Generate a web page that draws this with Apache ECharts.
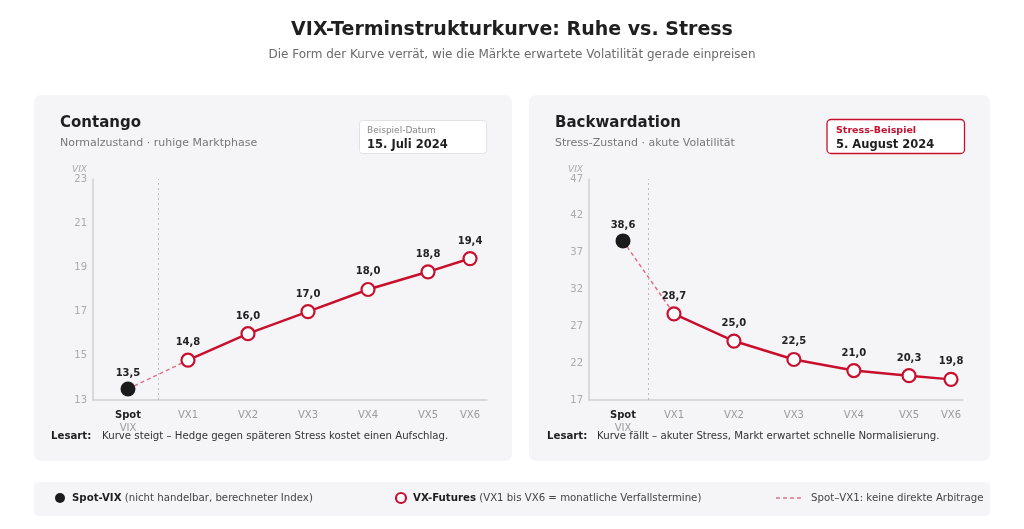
<!DOCTYPE html>
<html>
<head>
  <meta charset="utf-8">
  <title>VIX-Terminstruktur</title>
  <script src="https://cdn.jsdelivr.net/npm/echarts@6/dist/echarts.min.js"></script>
  <style>
    html, body { margin: 0; padding: 0; background: #fff; }
    #main { width: 1024px; height: 529px; }
  </style>
</head>
<body>
  <div id="main"></div>
  <script type="text/javascript">
    // Daten
    var labels = ['Spot', 'VX1', 'VX2', 'VX3', 'VX4', 'VX5', 'VX6'];

    // Contango (15. Juli 2024)
    var contangoPos = [0, 1, 2, 3, 4, 5, 5.7];
    var contangoSpot = 13.5;
    var contangoFutures = [14.8, 16.0, 17.0, 18.0, 18.8, 19.4];
    var contangoTicks = [13, 15, 17, 19, 21, 23];

    // Backwardation (5. August 2024)
    var backPos = [0.15, 1, 2, 3, 4, 4.92, 5.62];
    var backSpot = 38.6;
    var backFutures = [28.7, 25.0, 22.5, 21.0, 20.3, 19.8];
    var backTicks = [17, 22, 27, 32, 37, 42, 47];

    var FONT = 'DejaVu Sans';
    var RED = '#c8102e';
    var DASH = '#e07088';
    var SMALL = 10.2;

    var myChart = echarts.init(document.getElementById('main'));

    function comma(v) { return v.toFixed(1).replace('.', ','); }

    function xLabel(pos) {
      return function (value) {
        for (var i = 0; i < pos.length; i++) {
          if (Math.abs(pos[i] - value) < 0.001) {
            return i === 0 ? '{s|Spot}\n{v|VIX}' : labels[i];
          }
        }
        return '';
      };
    }

    function xAxisFor(idx, pos, min, max) {
      return {
        type: 'value', gridIndex: idx, min: min, max: max,
        axisLine: { show: true, onZero: false, lineStyle: { color: '#cfcfd4', width: 1.5 } },
        axisTick: { show: false },
        splitLine: { show: false },
        axisLabel: {
          customValues: pos,
          formatter: xLabel(pos),
          color: '#9a9a9a', fontFamily: FONT, fontSize: 10, margin: 9, lineHeight: 13,
          rich: {
            s: { fontWeight: 'bold', color: '#222', fontFamily: FONT, fontSize: 10, lineHeight: 13 },
            v: { color: '#9a9a9a', fontFamily: FONT, fontSize: 10, lineHeight: 13 }
          }
        }
      };
    }

    function yAxisFor(idx, ticks) {
      return {
        type: 'value', gridIndex: idx,
        min: ticks[0], max: ticks[ticks.length - 1],
        name: 'VIX', nameLocation: 'end', nameGap: 5,
        nameTextStyle: { fontStyle: 'italic', color: '#aaa', fontSize: 9, fontFamily: FONT, align: 'right', padding: [0, 6, 0, 0] },
        axisLine: { show: true, onZero: false, lineStyle: { color: '#cfcfd4', width: 1.5 } },
        axisTick: { show: false },
        splitLine: { show: false },
        axisLabel: { customValues: ticks, color: '#aaa', fontSize: 10, fontFamily: FONT, margin: 6 }
      };
    }

    function seriesFor(idx, pos, spot, futures) {
      var futData = [];
      for (var i = 0; i < futures.length; i++) futData.push([pos[i + 1], futures[i]]);
      var divider = (pos[0] + pos[1]) / 2;
      return [
        {
          type: 'line', xAxisIndex: idx, yAxisIndex: idx, z: 2,
          data: [[pos[0], spot], [pos[1], futures[0]]],
          symbol: 'none', silent: true,
          lineStyle: { color: DASH, width: 1.5, type: [4, 3] }
        },
        {
          type: 'line', xAxisIndex: idx, yAxisIndex: idx, z: 3,
          data: futData,
          symbol: 'circle', symbolSize: 13,
          itemStyle: { color: '#fff', borderColor: RED, borderWidth: 2.2 },
          lineStyle: { color: RED, width: 2.5 },
          label: {
            show: true, position: 'top', distance: 5,
            color: '#222', fontWeight: 'bold', fontSize: 10, fontFamily: FONT,
            formatter: function (p) { return comma(p.value[1]); }
          },
          markLine: {
            silent: true, symbol: 'none', label: { show: false },
            lineStyle: { type: [2, 3], color: '#bbb', width: 1 },
            data: [{ xAxis: divider }]
          }
        },
        {
          type: 'scatter', xAxisIndex: idx, yAxisIndex: idx, z: 4,
          data: [[pos[0], spot]],
          symbolSize: 15,
          itemStyle: { color: '#1b1b1b', opacity: 1 },
          label: {
            show: true, position: 'top', distance: 3,
            color: '#222', fontWeight: 'bold', fontSize: 10, fontFamily: FONT,
            formatter: function (p) { return comma(p.value[1]); }
          }
        }
      ];
    }

    function txt(x, y, text, size, color, weight, align, extra) {
      var st = { text: text, x: x, y: y, fill: color, textAlign: align || 'left', textVerticalAlign: 'middle',
        font: (weight || 'normal') + ' ' + size + 'px "' + FONT + '"' };
      if (extra) for (var k in extra) st[k] = extra[k];
      return { type: 'text', style: st, silent: true };
    }

    var boldRich = { b: { fontWeight: 'bold', fill: '#1f1f1f', fontFamily: FONT, fontSize: SMALL } };

    var graphics = [
      // Panels
      { type: 'rect', shape: { x: 34, y: 95, width: 478, height: 366, r: 7 }, style: { fill: '#f5f5f8' }, z: -10 },
      { type: 'rect', shape: { x: 529, y: 95, width: 461, height: 366, r: 7 }, style: { fill: '#f5f5f8' }, z: -10 },
      { type: 'rect', shape: { x: 34, y: 482, width: 956, height: 34, r: 4 }, style: { fill: '#f5f5f8' }, z: -10 },

      txt(512, 30, 'VIX-Terminstrukturkurve: Ruhe vs. Stress', 19, '#1f1f1f', 'bold', 'center'),
      txt(512, 55, 'Die Form der Kurve verrät, wie die Märkte erwartete Volatilität gerade einpreisen', 12, '#6b6b6b', 'normal', 'center'),

      // left header
      txt(60, 123, 'Contango', 15, '#1f1f1f', 'bold'),
      txt(60, 143, 'Normalzustand · ruhige Marktphase', 11, '#777'),
      { type: 'rect', shape: { x: 359.5, y: 120.5, width: 127, height: 33, r: 3 }, style: { fill: '#fff', stroke: '#e2e2e6', lineWidth: 1 } },
      txt(367, 131, 'Beispiel-Datum', 9, '#888'),
      txt(367, 145, '15. Juli 2024', 11.5, '#1f1f1f', 'bold'),

      // right header
      txt(555, 123, 'Backwardation', 15, '#1f1f1f', 'bold'),
      txt(555, 143, 'Stress-Zustand · akute Volatilität', 11, '#777'),
      { type: 'rect', shape: { x: 827, y: 119.5, width: 137.5, height: 34, r: 4 }, style: { fill: '#fff', stroke: RED, lineWidth: 1.3 } },
      txt(836, 131, 'Stress-Beispiel', 9.5, RED, 'bold'),
      txt(836, 145, '5. August 2024', 11.5, '#1f1f1f', 'bold'),

      // Lesart
      txt(51, 436, 'Lesart:', SMALL, '#1f1f1f', 'bold'),
      txt(102, 436, 'Kurve steigt – Hedge gegen späteren Stress kostet einen Aufschlag.', SMALL, '#333'),
      txt(547, 436, 'Lesart:', SMALL, '#1f1f1f', 'bold'),
      txt(597, 436, 'Kurve fällt – akuter Stress, Markt erwartet schnelle Normalisierung.', SMALL, '#333'),

      // legend
      { type: 'circle', shape: { cx: 60, cy: 498, r: 5 }, style: { fill: '#1b1b1b' } },
      txt(72, 498, '{b|Spot-VIX} (nicht handelbar, berechneter Index)', SMALL, '#444', 'normal', 'left', { rich: boldRich }),
      { type: 'circle', shape: { cx: 401, cy: 498, r: 5 }, style: { fill: '#fff', stroke: RED, lineWidth: 2.2 } },
      txt(413, 498, '{b|VX-Futures} (VX1 bis VX6 = monatliche Verfallstermine)', SMALL, '#444', 'normal', 'left', { rich: boldRich }),
      { type: 'line', shape: { x1: 776, y1: 498, x2: 801, y2: 498 }, style: { stroke: DASH, lineWidth: 1.5, lineDash: [4, 3] } },
      txt(811, 498, 'Spot–VX1: keine direkte Arbitrage', SMALL, '#444')
    ];

    var option = {
      animation: false,
      textStyle: { fontFamily: FONT },
      grid: [
        { left: 93, top: 179, width: 394, height: 221 },
        { left: 589, top: 179, width: 374, height: 221 }
      ],
      xAxis: [
        xAxisFor(0, contangoPos, -0.583, 5.983),
        xAxisFor(1, backPos, -0.417, 5.82)
      ],
      yAxis: [
        yAxisFor(0, contangoTicks),
        yAxisFor(1, backTicks)
      ],
      series: seriesFor(0, contangoPos, contangoSpot, contangoFutures)
        .concat(seriesFor(1, backPos, backSpot, backFutures)),
      graphic: graphics
    };

    myChart.setOption(option);
  </script>
</body>
</html>
